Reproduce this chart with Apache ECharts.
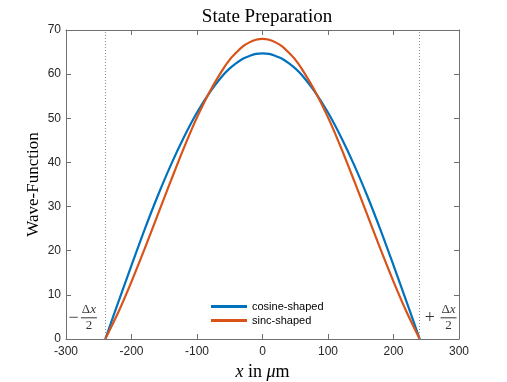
<!DOCTYPE html>
<html>
<head>
<meta charset="utf-8">
<script src="https://cdn.jsdelivr.net/npm/echarts@6/dist/echarts.min.js"></script>
<style>html,body{margin:0;padding:0;background:#fff}#c{width:507px;height:382px}</style>
</head>
<body>
<div id="c"></div>
<script>
const xs = [-240,-220,-200,-180,-160,-140,-120,-100,-80,-60,-50,-40,-30,-20,-10,0,10,20,30,40,50,60,80,100,120,140,160,180,200,220,240];
const cosineShaped = [0,8.4,16.7,24.8,32.4,39.4,45.7,51.3,56.0,59.8,61.3,62.5,63.5,64.1,64.6,64.7,64.6,64.1,63.5,62.5,61.3,59.8,56.0,51.3,45.7,39.4,32.4,24.8,16.7,8.4,0];
const sincShaped = [0,6.1,13.0,20.4,28.1,35.8,43.3,50.2,56.2,61.2,63.3,64.9,66.3,67.2,67.8,68.0,67.8,67.2,66.3,64.9,63.3,61.2,56.2,50.2,43.3,35.8,28.1,20.4,13.0,6.1,0];
const xTicks = [-300,-200,-100,0,100,200,300];
const yTicks = [0,10,20,30,40,50,60,70];
const edges = [-240, 240];
const seriesNames = ['cosine-shaped','sinc-shaped'];
const colors = ['#0072BD','#D95319'];

const serif = '"Liberation Serif","DejaVu Serif",serif';
const sans = '"Liberation Sans",Arial,sans-serif';
const axisColor = '#707070';
const textColor = '#262626';

const fracRich = {
  s: {fontFamily: serif, fontSize: 18, color: '#000', padding:[0,2,0,0]},
  n: {fontFamily: serif, fontSize: 13, color: '#000', lineHeight: 13},
  ni: {fontFamily: serif, fontSize: 13, fontStyle: 'italic', color: '#000', lineHeight: 13},
  l: {fontSize: 1, width: 16, height: 1, lineHeight: 3, backgroundColor: '#000', color: 'rgba(0,0,0,0)'},
  d: {fontFamily: serif, fontSize: 13, color: '#000', lineHeight: 13}
};

function pairs(vals){ return xs.map((x,i)=>[x, vals[i]]); }

const chart = echarts.init(document.getElementById('c'), null, {renderer:'canvas'});
const axisBase = {
  type: 'value',
  axisLine: {show: true, onZero: false, lineStyle: {color: axisColor, width: 1}},
  axisTick: {show: true, inside: true, length: 5, lineStyle: {color: axisColor, width: 1}},
  splitLine: {show: false}
};
chart.setOption({
  animation: false,
  backgroundColor: '#fff',
  title: {
    text: 'State Preparation',
    left: 262, top: 3, textAlign: 'center',
    textStyle: {fontFamily: serif, fontSize: 19, fontWeight: 'normal', color: '#000'}
  },
  grid: {left: 66, right: 48, top: 30, bottom: 43, containLabel: false, outerBoundsMode: 'none'},
  legend: {
    data: seriesNames,
    orient: 'vertical',
    left: 206, top: 296,
    itemWidth: 36, itemHeight: 3, itemGap: 3,
    icon: 'rect',
    textStyle: {fontFamily: sans, fontSize: 11, color: '#000'}
  },
  xAxis: [
    Object.assign({}, axisBase, {
      position: 'bottom', min: xTicks[0], max: xTicks[xTicks.length-1], interval: 100,
      axisLabel: {show: true, fontFamily: sans, fontSize: 12, color: textColor, margin: 7},
      name: '{i|x} in {i|μ}m', nameLocation: 'middle', nameGap: 22,
      nameTextStyle: {fontFamily: serif, fontSize: 18, color: '#000',
        rich: {i: {fontFamily: serif, fontSize: 18, fontStyle: 'italic', color: '#000'}}}
    }),
    Object.assign({}, axisBase, {
      position: 'top', min: xTicks[0], max: xTicks[xTicks.length-1], interval: 100,
      axisLabel: {show: false}
    })
  ],
  yAxis: [
    Object.assign({}, axisBase, {
      position: 'left', min: yTicks[0], max: yTicks[yTicks.length-1], interval: 10,
      axisLabel: {show: true, fontFamily: sans, fontSize: 12, color: textColor, margin: 5},
      name: 'Wave-Function', nameLocation: 'middle', nameGap: 24, nameRotate: 90,
      nameMoveOverlap: false,
      nameTextStyle: {fontFamily: serif, fontSize: 17, color: '#000'}
    }),
    Object.assign({}, axisBase, {
      position: 'right', min: yTicks[0], max: yTicks[yTicks.length-1], interval: 10,
      axisLabel: {show: false}
    })
  ],
  series: [
    {
      name: seriesNames[0], type: 'line', data: pairs(cosineShaped),
      smooth: 0.3, showSymbol: false, symbol: 'none',
      lineStyle: {color: colors[0], width: 2.2}, itemStyle: {color: colors[0]},
      markLine: {
        silent: true, symbol: 'none', label: {show: false},
        lineStyle: {color: '#8a8a8a', type: [1, 2], width: 1},
        data: edges.map(e => ({xAxis: e}))
      },
      z: 3
    },
    {
      name: seriesNames[1], type: 'line', data: pairs(sincShaped),
      smooth: 0.3, showSymbol: false, symbol: 'none',
      lineStyle: {color: colors[1], width: 2.2}, itemStyle: {color: colors[1]},
      z: 4
    },
    {
      name: 'annot', type: 'scatter', symbolSize: 0, silent: true,
      data: [
        {value: [-287, 4.8], label: {show: true, position: 'inside', formatter: '{s|−}', rich: fracRich}},
        {value: [-265, 4.8], label: {show: true, position: 'inside', formatter: '{n|Δ}{ni|x}\n{l| }\n{d|2}', rich: fracRich}},
        {value: [257, 4.8], label: {show: true, position: 'inside', formatter: '{s|+}', rich: fracRich}},
        {value: [284, 4.8], label: {show: true, position: 'inside', formatter: '{n|Δ}{ni|x}\n{l| }\n{d|2}', rich: fracRich}}
      ]
    }
  ]
});
</script>
</body>
</html>
